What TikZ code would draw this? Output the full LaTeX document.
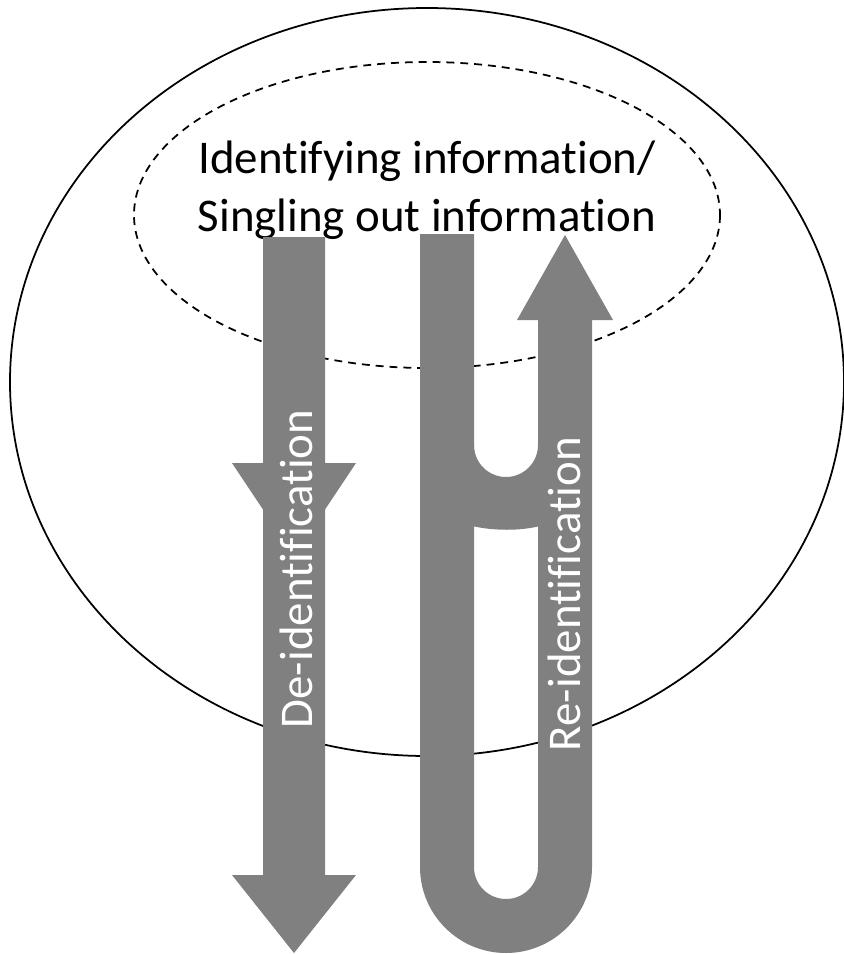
\documentclass[tikz,border=0pt]{standalone}
\usepackage{fontspec}
\setmainfont{Carlito}[Ligatures=NoCommon]
\definecolor{bandgray}{RGB}{128,128,128}
\definecolor{textdark}{RGB}{0,0,0}

\begin{document}
\begin{tikzpicture}[
    x=0.02cm, y=-0.02cm,
    outline/.style={
        draw=textdark, line width=1pt
    },
    band/.style={
        fill=bandgray, draw=none
    },
    heading/.style={
        align=center, inner sep=0pt,
        text=textdark,
        font=\fontsize{26.7}{32.9}\selectfont
    },
    vlabel/.style={
        rotate=90, anchor=base, inner sep=0pt,
        text=white,
        font=\fontsize{26.7}{32}\selectfont
    }
]
\useasboundingbox (0,0) rectangle (844,954);

% Outer set and the identifying part inside it
\draw[outline] (427,382) ellipse [x radius=417, y radius=374];
\draw[outline, dash pattern=on 4.5pt off 3.4pt] (427,215) ellipse [x radius=293, y radius=153];

% base of a two-line node sits on its last line
\node[heading, anchor=base] (idinfo) at (427,231) {Identifying information/\\Singling out information};

% De-identification: long down arrow with a second head half way
\fill[band] (263,237) -- (325,237) -- (325,875) -- (356,875) -- (294,953)
    -- (232,875) -- (263,875) -- cycle;
\fill[band] (232,463) -- (356,463) -- (294,556) -- cycle;

% Re-identification: U-turn going down and back up
\fill[band] (420,234) -- (474,234) -- (474,867)
    arc[start angle=180, end angle=0, radius=32]
    -- (538,320) -- (517,320) -- (565,235) -- (613,320) -- (592,320) -- (592,867)
    arc[start angle=0, end angle=180, radius=86] -- cycle;

% small hump between the two stems
\fill[band] (474,445) arc[start angle=180, end angle=0, radius=32]
    -- (540,445) -- (540,526) .. controls (520,531) and (494,531) .. (472,526)
    -- (472,445) -- cycle;

% Labels along the arrows
\node[vlabel] (deid) at (312,569) {De-identification};
\node[vlabel] (reid) at (580,594) {Re-identification};

\end{tikzpicture}
\end{document}
